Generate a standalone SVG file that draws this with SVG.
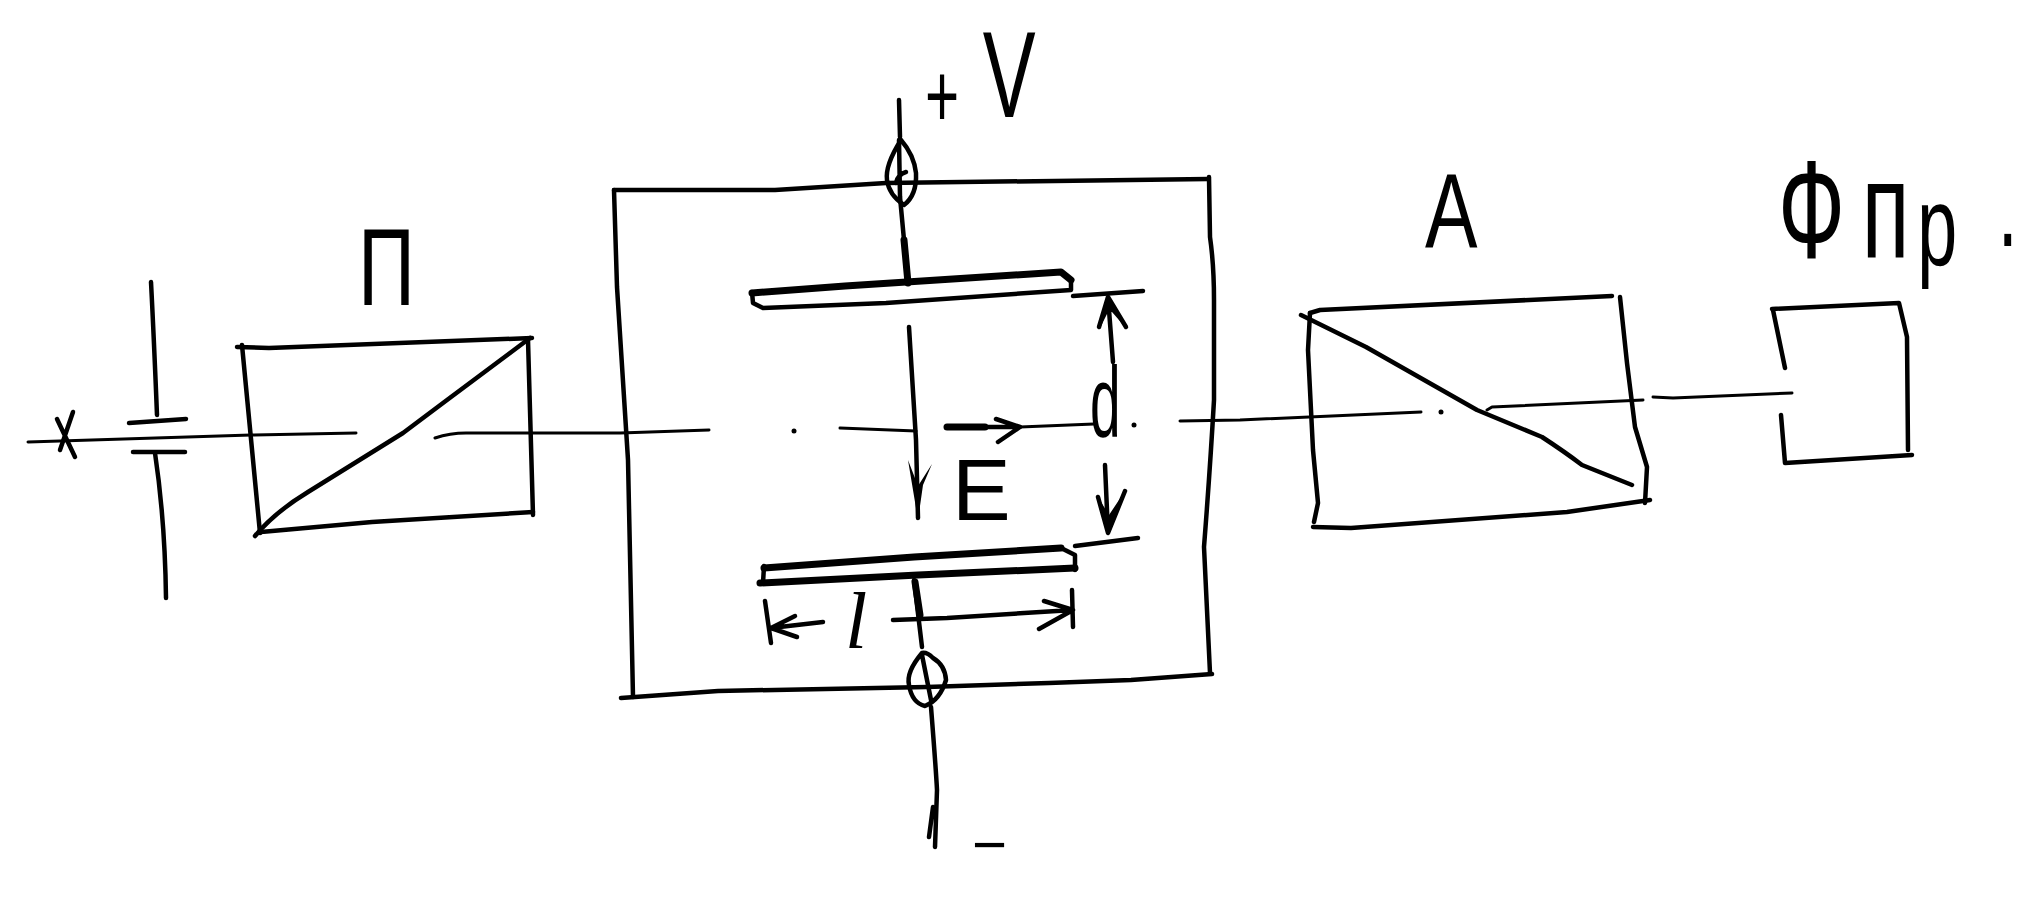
<svg xmlns="http://www.w3.org/2000/svg" width="2029" height="901" viewBox="0 0 2029 901">
<style>
.s{fill:none;stroke:#000;stroke-width:4.5;stroke-linecap:round;stroke-linejoin:round}
.t{stroke-width:3}
.b{stroke-width:7}
.h{fill:#000;stroke:none}
text{font-family:"Liberation Sans",Arial,sans-serif;fill:#000}
</style>
<rect width="2029" height="901" fill="#fff"/>
<g id="connectors">
<path class="s t" d="M28 442L251 435L356 433"/>
<path class="s t" d="M435 438Q450 433 466 433L620 433L709 430"/>
<circle class="h" cx="794" cy="431" r="2.5"/>
<path class="s t" d="M840 428L916 431"/>
<path class="s b" d="M947 427L985 427"/>
<path class="s" d="M985 427L1020 427M996 419L1020 427L998 442"/>
<path class="s t" d="M1020 427L1094 424"/>
<circle class="h" cx="1134" cy="425" r="2.5"/>
<path class="s t" d="M1180 421L1240 420L1421 412"/>
<circle class="h" cx="1441" cy="412" r="2.5"/>
<path class="s t" d="M1487 410L1492 407L1643 400"/>
<path class="s t" d="M1653 397L1673 398L1792 393"/>
<path class="s" d="M57 419L75 457M73 412L60 450"/>
<path class="s" d="M899 100L900 137"/>
<path class="s" d="M901 140Q885 165 887 180Q889 195 904 205Q917 195 916 173Q914 155 901 140Z"/>
<path class="s" d="M896 183Q898 174 906 172M899 140L900 197"/>
<path class="s" d="M900 197L904 240"/>
<path class="s b" d="M904 240L908 283"/>
<path class="s" d="M914 580L922 647"/>
<path class="s b" d="M915 582L920 615"/>
<path class="s" d="M922 653Q906 672 909 685Q912 703 925 706Q940 700 946 680Q945 665 933 658Q927 652 922 653ZM922 655L931 700"/>
<path class="s" d="M931 707Q936 770 937 790Q936 820 935 847M929 837L933 807"/>
<path class="s" d="M909 327L916 440L918 518"/>
<path class="h" d="M908 460L918 520L923 485L932 464L918 486Z"/>
<path class="s" d="M1073 296L1143 291"/>
<path class="s" d="M1075 546L1138 538"/>
<path class="s" d="M1108 297L1113 362M1099 327L1108 297L1126 327"/>
<path class="h" d="M1108 297L1100 328L1108 312L1112 312L1126 328Z"/>
<path class="s" d="M1105 465L1108 533M1098 497L1108 533L1125 491"/>
<path class="h" d="M1098 497L1108 535L1125 491L1109 515Z"/>
<path class="s" d="M765 601L771 643M795 616L771 628L797 637M771 628L823 622"/>
<path class="s" d="M893 620L947 618L1073 610M1072 590L1073 627M1044 601L1073 610L1039 629"/>
</g>
<g id="capacitor-slit">
<path class="s" d="M151 282Q154 340 157 415"/>
<path class="s" d="M129 423L186 419"/>
<path class="s" d="M133 452L185 452"/>
<path class="s" d="M155 453Q165 520 166 598"/>
</g>
<g id="polarizer">
<path class="s" d="M237 347L269 348L532 338"/>
<path class="s" d="M242 345L260 533"/>
<path class="s" d="M528 340L533 515"/>
<path class="s" d="M533 512L372 522L261 532"/>
<path class="s" d="M255 536Q275 512 308 492L403 433L447 400L530 338"/>
<text transform="translate(358 305) scale(.72 1)" font-size="110">П</text>
</g>
<g id="kerr-cell">
<path class="s" d="M614 190L775 190L886 183L1208 179"/>
<path class="s" d="M614 190L617 287L628 460L633 697"/>
<path class="s" d="M1209 177L1210 237Q1214 265 1214 300L1214 400Q1210 470 1204 547L1210 673"/>
<path class="s" d="M621 698L718 691L927 687L1049 683L1131 680L1212 674"/>
</g>
<g id="plate-top">
<path class="s" d="M752 292L753 303L763 308L886 303L1071 290L1071 280"/>
<path class="s b" d="M752 293L845 286L1061 272L1071 280"/>
</g>
<g id="plate-bottom">
<path class="s b" d="M764 568L914 557L1061 548"/>
<path class="s b" d="M760 583L918 575L1075 568"/>
<path class="s" d="M764 566L763 583M1061 548L1075 555L1075 570"/>
</g>
<g id="analyzer">
<path class="s" d="M1310 313L1320 310L1612 296"/>
<path class="s" d="M1310 313L1308 350L1313 450L1318 503L1314 522"/>
<path class="s" d="M1620 297L1627 363L1635 427L1647 467L1645 503"/>
<path class="s" d="M1313 527L1351 528L1567 512L1650 500"/>
<path class="s" d="M1301 315L1366 347L1477 410L1542 437Q1565 452 1582 465L1632 485"/>
<text transform="translate(1425 247) scale(.75 1)" font-size="105">A</text>
</g>
<g id="detector">
<path class="s" d="M1773 310L1785 368"/>
<path class="s" d="M1781 415L1785 463L1912 455"/>
<path class="s" d="M1772 309L1899 303L1907 337L1908 450"/>
<text transform="translate(1778 258) scale(.63 1)" font-size="140">Ф<tspan x="133">п</tspan><tspan x="221" y="7" font-size="114">р</tspan><tspan x="349" y="-12" font-size="114">.</tspan></text>
</g>
<g id="labels">
<text transform="translate(925 117) scale(.65 1)" font-size="122"><tspan y="10" font-size="90">+</tspan><tspan x="89" y="0">V</tspan></text>
<text transform="translate(1090 437) scale(.55 1)" font-size="100">d</text>
<text x="952" y="520" font-size="88">E</text>
<text x="845" y="648" font-size="80" style="font-family:'Liberation Serif',serif;font-style:italic">l</text>
<text x="972" y="865" font-size="60">−</text>
</g>
</svg>
